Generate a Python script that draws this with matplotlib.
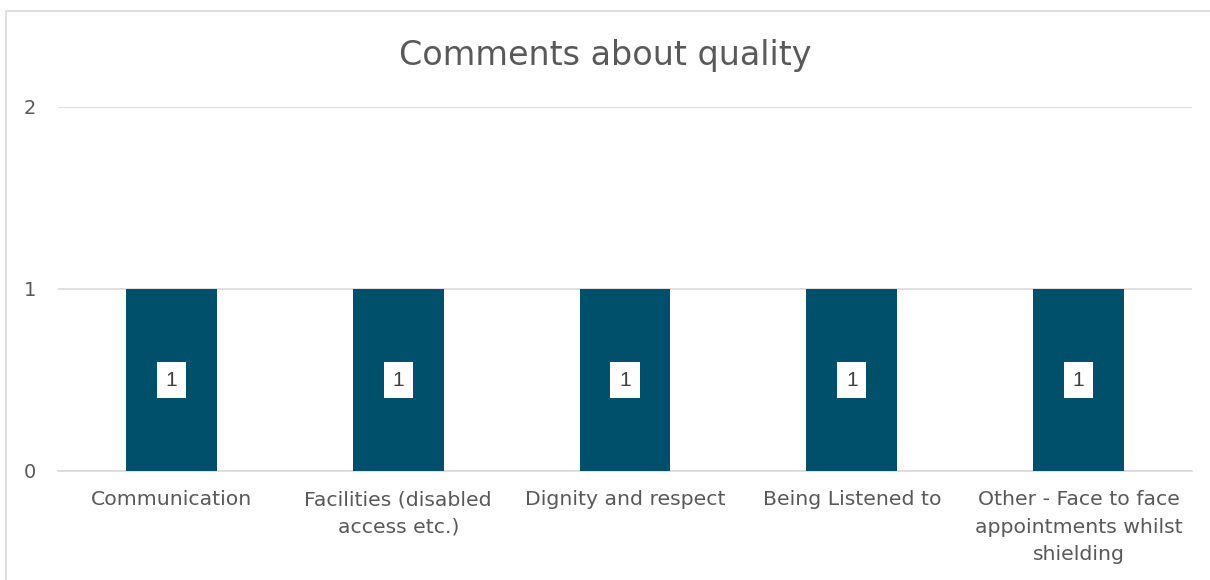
import matplotlib
matplotlib.use("Agg")
import matplotlib.pyplot as plt
from matplotlib.patches import Rectangle

categories = ["Communication", "Facilities (disabled\naccess etc.)", "Dignity and respect",
              "Being Listened to", "Other - Face to face\nappointments whilst\nshielding"]
values = [1, 1, 1, 1, 1]
yticks = [0, 1, 2]
title = "Comments about quality"

plt.rcParams['font.family'] = ['DejaVu Sans']
fig = plt.figure(figsize=(12.1, 5.8), dpi=100)
fig.patch.set_facecolor('white')
# chart border
fig.patches.append(Rectangle((6/1210, -0.05), 1.2, 0.05 + (1 - 11/580), transform=fig.transFigure,
                             fill=False, edgecolor='#d9d9d9', linewidth=1.2, zorder=0))

ax = fig.add_axes([58/1210, 1 - 471/580, (1192 - 58)/1210, (471 - 107)/580])
x = list(range(len(categories)))
bars = ax.bar(x, values, width=0.4, color='#004f6b', zorder=3)
ax.set_xlim(-0.5, len(categories) - 0.5)
ax.set_ylim(0, 2)
ax.set_yticks(yticks)
ax.set_yticklabels([str(t) for t in yticks], fontsize=14, color='#595959')
ax.set_xticks(x)
ax.set_xticklabels(categories, fontsize=14.7, color='#595959', linespacing=1.55)
ax.tick_params(axis='both', length=0)
ax.tick_params(axis='y', pad=16)
ax.tick_params(axis='x', pad=14)
ax.grid(axis='y', color='#d9d9d9', linewidth=1.2, zorder=0)
for s in ax.spines.values():
    s.set_visible(False)
ax.spines['bottom'].set_visible(True)
ax.spines['bottom'].set_color('#d9d9d9')
ax.spines['bottom'].set_linewidth(1.2)

for xi, v in zip(x, values):
    ax.text(xi, v / 2, str(v), ha='center', va='center', fontsize=15, color='#404040',
            family='Liberation Sans', zorder=4,
            bbox=dict(boxstyle='square,pad=0.42', facecolor='white', edgecolor='none'))

fig.text(0.5, 1 - 55/580, title, ha='center', va='center', fontsize=24, color='#595959')

fig.savefig("out.png", dpi=100)
